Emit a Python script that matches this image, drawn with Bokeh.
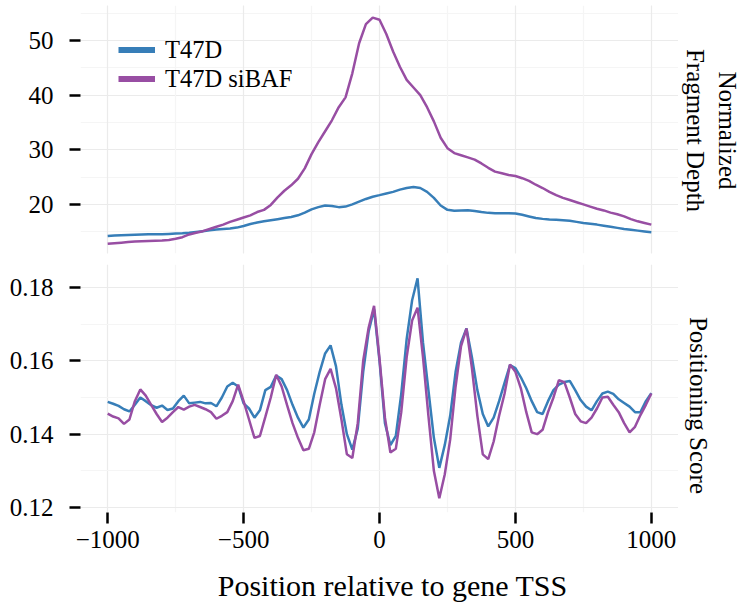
import math
from bokeh.plotting import figure
from bokeh.layouts import column, row
from bokeh.models import (FixedTicker, Legend, LegendItem, Range1d, Grid, Label)
from bokeh.embed import file_html
from bokeh.resources import INLINE

# ---------------- data ----------------
series_names = ["T47D", "T47D siBAF"]
colors = ["#377EB8", "#984EA3"]

x_depth = list(range(-1000, 1001, 25))
depth_t47d = [
    14.2, 14.3, 14.35, 14.4, 14.45, 14.5, 14.55, 14.55, 14.55, 14.6,
    14.65, 14.7, 14.8, 14.95, 15.1, 15.25, 15.4, 15.5, 15.6, 15.75,
    16.05, 16.4, 16.7, 16.9, 17.1, 17.3, 17.5, 17.7, 18.0, 18.5,
    19.1, 19.5, 19.8, 19.7, 19.5, 19.6, 20.0, 20.5, 21.0, 21.4,
    21.7, 22.0, 22.3, 22.7, 23.0, 23.2, 23.0, 22.3, 21.2, 19.8,
    19.0, 18.85, 18.9, 18.95, 18.8, 18.6, 18.45, 18.4, 18.4, 18.4,
    18.35, 18.1, 17.8, 17.5, 17.35, 17.25, 17.2, 17.1, 17.0, 16.8,
    16.6, 16.45, 16.3, 16.1, 15.9, 15.7, 15.5, 15.35, 15.2, 15.05,
    14.9,
]
depth_sibaf = [
    12.8, 12.9, 13.0, 13.1, 13.2, 13.25, 13.3, 13.35, 13.4, 13.5,
    13.7, 14.0, 14.5, 14.8, 15.1, 15.5, 15.9, 16.3, 16.8, 17.2,
    17.6, 18.0, 18.6, 19.0, 19.9, 21.3, 22.5, 23.5, 24.7, 26.6,
    29.2, 31.4, 33.4, 35.4, 37.8, 39.6, 44.0, 49.5, 53.0, 54.2,
    53.8, 51.2, 48.0, 45.2, 42.8, 41.4, 40.0, 37.8, 35.2, 32.2,
    30.3, 29.4, 29.0, 28.6, 28.2, 27.5, 26.7, 26.0, 25.7, 25.4,
    25.2, 24.8, 24.3, 23.6, 23.0, 22.3, 21.7, 21.2, 20.8, 20.4,
    20.0, 19.6, 19.2, 18.9, 18.5, 18.2, 17.8, 17.3, 16.9, 16.6,
    16.3,
]

x_pos = list(range(-1000, 1001, 20))
pos_t47d = [
    .1488, .1483, .1477, .1468, .1462, .1480, .1500, .1490, .1479, .1472,
    .1478, .1466, .1470, .1490, .1505, .1484, .1486, .1488, .1484, .1485,
    .1476, .1500, .1530, .1540, .1530, .1484, .1470, .1445, .1465, .1520,
    .1529, .1560, .1550, .1520, .1480, .1445, .1418, .1440, .1510, .1570,
    .1620, .1642, .1585, .1480, .1400, .1358, .1415, .1570, .1680, .1740,
    .1600, .1430, .1370, .1395, .1510, .1660, .1765, .1825, .1650, .1520,
    .1390, .1308, .1370, .1450, .1570, .1650, .1688, .1610, .1520, .1455,
    .1421, .1445, .1490, .1540, .1588, .1580, .1555, .1525, .1490, .1460,
    .1455, .1490, .1520, .1535, .1542, .1545, .1520, .1493, .1475, .1465,
    .1490, .1511, .1516, .1510, .1495, .1485, .1475, .1460, .1460, .1490,
    .1512,
]
pos_sibaf = [
    .1456, .1448, .1443, .1428, .1440, .1490, .1522, .1505, .1480, .1455,
    .1433, .1445, .1460, .1474, .1467, .1475, .1480, .1474, .1468, .1460,
    .1442, .1450, .1460, .1490, .1535, .1490, .1440, .1390, .1395, .1447,
    .1500, .1562, .1530, .1479, .1430, .1390, .1356, .1360, .1405, .1480,
    .1550, .1578, .1525, .1440, .1345, .1335, .1430, .1600, .1690, .1750,
    .1606, .1445, .1350, .1360, .1460, .1610, .1710, .1745, .1610, .1450,
    .1300, .1225, .1290, .1385, .1530, .1640, .1688, .1580, .1450, .1345,
    .1332, .1380, .1450, .1510, .1590, .1570, .1525, .1460, .1405, .1400,
    .1412, .1460, .1500, .1547, .1542, .1500, .1455, .1435, .1430, .1445,
    .1470, .1500, .1502, .1480, .1460, .1430, .1405, .1420, .1452, .1480,
    .1511,
]

x_ticks = [-1000, -500, 0, 500, 1000]
x_minor = [-750, -250, 250, 750]
x_tick_labels = ["\u22121000", "\u2212500", "0", "500", "1000"]
depth_ticks = [20, 30, 40, 50]
depth_minor = [15, 25, 35, 45, 55]
depth_tick_labels = ["20", "30", "40", "50"]
pos_ticks = [0.12, 0.14, 0.16, 0.18]
pos_minor = [0.13, 0.15, 0.17]
pos_tick_labels = ["0.12", "0.14", "0.16", "0.18"]
strip_top = ["Normalized", "Fragment Depth"]
strip_bottom = "Positioning Score"
x_title = "Position relative to gene TSS"

FONT = "Liberation Serif"
MAJOR_GRID = "#EBEBEB"
MINOR_GRID = "#F5F5F5"
LEFT = 80
FRAME_W = 598
MAIN_W = LEFT + FRAME_W      # 678
STRIP_W = 63
H1 = 258          # top panel figure
H2 = 304          # bottom panel figure (with x axis)
HT = 48           # x title strip
HS2 = H2 + HT     # right strip next to bottom panel


def style_common(p):
    p.outline_line_color = None
    p.background_fill_color = "white"
    p.border_fill_color = "white"


def style_axis(ax, standoff):
    ax.axis_line_color = None
    ax.major_tick_line_color = "black"
    ax.major_tick_line_width = 2.5
    ax.major_tick_out = 11
    ax.major_tick_in = 0
    ax.minor_tick_line_color = None
    ax.major_label_text_font = FONT
    ax.major_label_text_font_size = "25px"
    ax.major_label_text_color = "black"
    ax.major_label_standoff = standoff


def style_grid(g):
    g.grid_line_color = MAJOR_GRID
    g.grid_line_width = 1.2
    g.minor_grid_line_color = MINOR_GRID
    g.minor_grid_line_width = 1.2


def blank_fig(w, h):
    s = figure(width=w, height=h, x_range=Range1d(0, w), y_range=Range1d(0, h),
               output_backend="svg", toolbar_location=None,
               x_axis_location=None, y_axis_location=None, min_border=0)
    style_common(s)
    s.grid.visible = False
    return s


# ---------------- top panel ----------------
p1 = figure(width=MAIN_W, height=H1, x_range=Range1d(-1100, 1100),
            y_range=Range1d(11.01, 56.42), output_backend="svg",
            toolbar_location=None, x_axis_location=None,
            min_border_left=LEFT, min_border_right=0,
            min_border_top=5, min_border_bottom=5)
style_common(p1)
xt1 = FixedTicker(ticks=x_ticks, minor_ticks=x_minor)
yt1 = FixedTicker(ticks=depth_ticks, minor_ticks=depth_minor)
p1.yaxis.ticker = yt1
p1.yaxis.major_label_overrides = dict(zip(depth_ticks, depth_tick_labels))
style_axis(p1.yaxis[0], 16)
for g in p1.ygrid:
    g.ticker = yt1
    style_grid(g)
g1x = Grid(dimension=0, ticker=xt1)
style_grid(g1x)
p1.add_layout(g1x)

p1.line(x_depth, depth_t47d, line_color=colors[0], line_width=2.5)
p1.line(x_depth, depth_sibaf, line_color=colors[1], line_width=2.5)

# thicker hidden copies used only for the legend keys
lr1 = p1.line(x_depth, depth_t47d, line_color=colors[0], line_width=6, visible=False)
lr2 = p1.line(x_depth, depth_sibaf, line_color=colors[1], line_width=6, visible=False)
legend = Legend(items=[LegendItem(label=series_names[0], renderers=[lr1]),
                       LegendItem(label=series_names[1], renderers=[lr2])],
                location=(38, 160), border_line_color=None,
                background_fill_alpha=0, inactive_fill_alpha=0,
                padding=0, margin=0, spacing=0,
                glyph_width=37, glyph_height=29, label_height=29,
                label_standoff=10, label_text_font=FONT,
                label_text_font_size="24.5px", label_text_color="black")
p1.add_layout(legend)

# ---------------- bottom panel ----------------
p2 = figure(width=MAIN_W, height=H2, x_range=p1.x_range,
            y_range=Range1d(0.11864, 0.18626), output_backend="svg",
            toolbar_location=None,
            min_border_left=LEFT, min_border_right=0,
            min_border_top=6, min_border_bottom=H2 - 6 - 248)
style_common(p2)
xt2 = FixedTicker(ticks=x_ticks, minor_ticks=x_minor)
yt2 = FixedTicker(ticks=pos_ticks, minor_ticks=pos_minor)
p2.xaxis.ticker = xt2
p2.yaxis.ticker = yt2
p2.xaxis.major_label_overrides = dict(zip(x_ticks, x_tick_labels))
p2.yaxis.major_label_overrides = dict(zip(pos_ticks, pos_tick_labels))
style_axis(p2.yaxis[0], 16)
style_axis(p2.xaxis[0], 7)
for g in p2.grid:
    style_grid(g)

p2.line(x_pos, pos_t47d, line_color=colors[0], line_width=2.5)
p2.line(x_pos, pos_sibaf, line_color=colors[1], line_width=2.5)

# ---------------- x axis title ----------------
t = blank_fig(MAIN_W, HT)
t.add_layout(Label(x=354, y=25, text=x_title, text_align="center",
                   text_baseline="middle", text_font=FONT,
                   text_font_size="30px", text_color="black"))


# ---------------- facet strips (right side) ----------------
def strip_label(text, x, y):
    return Label(x=x, y=y, text=text, angle=-math.pi / 2,
                 text_align="center", text_baseline="middle",
                 text_font=FONT, text_font_size="25px", text_color="black")


s1 = blank_fig(STRIP_W, H1)
s1.add_layout(strip_label(strip_top[0], 49, H1 - 130))
s1.add_layout(strip_label(strip_top[1], 17, H1 - 130))
s2 = blank_fig(STRIP_W, HS2)
s2.add_layout(strip_label(strip_bottom, 20, HS2 - (405 - H1)))

layout = row(column(p1, p2, t), column(s1, s2))
open("out.html", "w").write(file_html(layout, INLINE))
